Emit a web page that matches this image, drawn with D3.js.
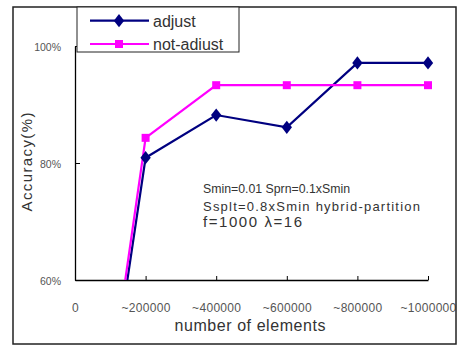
<!DOCTYPE html>
<html>
<head>
<meta charset="utf-8">
<script src="https://cdn.jsdelivr.net/npm/d3@7"></script>
<style>
  body { margin: 0; background: white; }
  text { font-family: "Liberation Sans", Arial, sans-serif; }
</style>
</head>
<body>
<figure style="margin:0"></figure>
<script>
const categories = ["0", "~200000", "~400000", "~600000", "~800000", "~1000000"]
const adjust = [0, 80.9, 88.2, 86.1, 97.1, 97.1]
const notAdjust = [0, 84.3, 93.3, 93.3, 93.3, 93.3]
const yTicks = [60, 80, 100]
const notes = ["Smin=0.01  Sprn=0.1xSmin", "Ssplt=0.8xSmin hybrid-partition", "f=1000 \u03bb=16"]

const svg = d3.select("figure").append("svg").attr("width", 459).attr("height", 345),
    margin = {top: 46, bottom: 65, left: 75, right: 31},
    width = 459 - margin.left - margin.right,
    height = 345 - margin.top - margin.bottom,
    chart = svg.append("g").attr("transform", `translate(${margin.left},${margin.top})`),
    x = d3.scaleLinear().domain([0, categories.length - 1]).range([0, width]),
    y = d3.scaleLinear().domain([60, 100]).range([height, 0])

// outer frame
svg.append("rect").attr("x", 13).attr("y", 7).attr("width", 443).attr("height", 337)
    .attr("fill", "none").attr("stroke", "#222").attr("stroke-width", 1.5)

// axes
const xAxis = chart.append("g").attr("transform", `translate(0,${height})`)
    .call(d3.axisBottom(x).tickValues(d3.range(categories.length)).tickFormat(i => categories[i]).tickSizeInner(-4).tickSizeOuter(0).tickPadding(23))
xAxis.select(".domain").attr("stroke", "#000").attr("stroke-width", 1.3)
xAxis.selectAll("line").attr("stroke", "#000")
xAxis.selectAll("text").attr("fill", "#555").style("font-size", "12px").style("letter-spacing", "0.3px")

const yAxis = chart.append("g")
    .call(d3.axisLeft(y).tickValues(yTicks).tickFormat(d => d + "%").tickSizeInner(-5).tickSizeOuter(0).tickPadding(14))
yAxis.select(".domain").attr("stroke", "#000").attr("stroke-width", 1.3)
yAxis.selectAll("line").attr("stroke", "#000")
yAxis.selectAll("text").attr("fill", "#555").style("font-size", "10.5px").attr("dy", "0.4em")

svg.append("text").text("Accuracy(%)")
    .attr("transform", "translate(32,162) rotate(-90)")
    .attr("text-anchor", "middle").attr("fill", "#333").style("font-size", "15px")
    .attr("textLength", 99).attr("lengthAdjust", "spacing")

svg.append("text").text("number of elements")
    .attr("x", 250).attr("y", 331)
    .attr("text-anchor", "middle").attr("fill", "#333").style("font-size", "16px")
    .attr("textLength", 151).attr("lengthAdjust", "spacing")

// series, clipped to the plot area
chart.append("clipPath").attr("id", "plot").append("rect")
    .attr("x", -2).attr("y", -40).attr("width", width + 10).attr("height", height + 40)

const series = [
    {name: "adjust", values: adjust, color: "#000080", symbol: d3.symbolDiamond, size: 70},
    {name: "not-adiust", values: notAdjust, color: "#ff00ff", symbol: d3.symbolSquare, size: 64}
]
const line = d3.line().x((d, i) => x(i)).y(d => y(d))

const plot = chart.append("g").attr("clip-path", "url(#plot)")
for (const s of series) {
    plot.append("path").datum(s.values)
        .attr("d", line).attr("fill", "none")
        .attr("stroke", s.color).attr("stroke-width", 2.2)
}
for (const s of series) {
    plot.selectAll(null).data(s.values.slice(1))
        .enter().append("path")
        .attr("d", d3.symbol(s.symbol, s.size))
        .attr("transform", (d, i) => `translate(${x(i + 1)},${y(d)})` + (s.symbol == d3.symbolDiamond ? " scale(1.15,0.85)" : ""))
        .attr("fill", s.color)
}

const noteWidths = [147, 217, 99]
chart.append("g").selectAll("text").data(notes).enter().append("text")
    .text(d => d)
    .attr("x", 128).attr("y", (d, i) => [147, 165, 181][i])
    .attr("fill", "#333")
    .style("font-size", (d, i) => ["12.3px", "13px", "15px"][i])
    .attr("textLength", (d, i) => noteWidths[i]).attr("lengthAdjust", "spacing")

// legend
const legend = svg.append("g").attr("transform", "translate(77,7)")
legend.append("rect").attr("width", 162).attr("height", 45)
    .attr("fill", "white").attr("stroke", "#222").attr("stroke-width", 1)
series.forEach((s, i) => {
    const g = legend.append("g").attr("transform", `translate(0,${13.7 + i * 23.3})`)
    g.append("line").attr("x1", 13).attr("x2", 72)
        .attr("stroke", s.color).attr("stroke-width", 2.2)
    g.append("path").attr("d", d3.symbol(s.symbol, s.size))
        .attr("transform", "translate(42,0)" + (s.symbol == d3.symbolDiamond ? " scale(1.15,0.85)" : ""))
        .attr("fill", s.color)
    g.append("text").text(s.name).attr("x", 76).attr("y", 6)
        .attr("fill", "#333").style("font-size", "16px")
})
</script>
</body>
</html>
